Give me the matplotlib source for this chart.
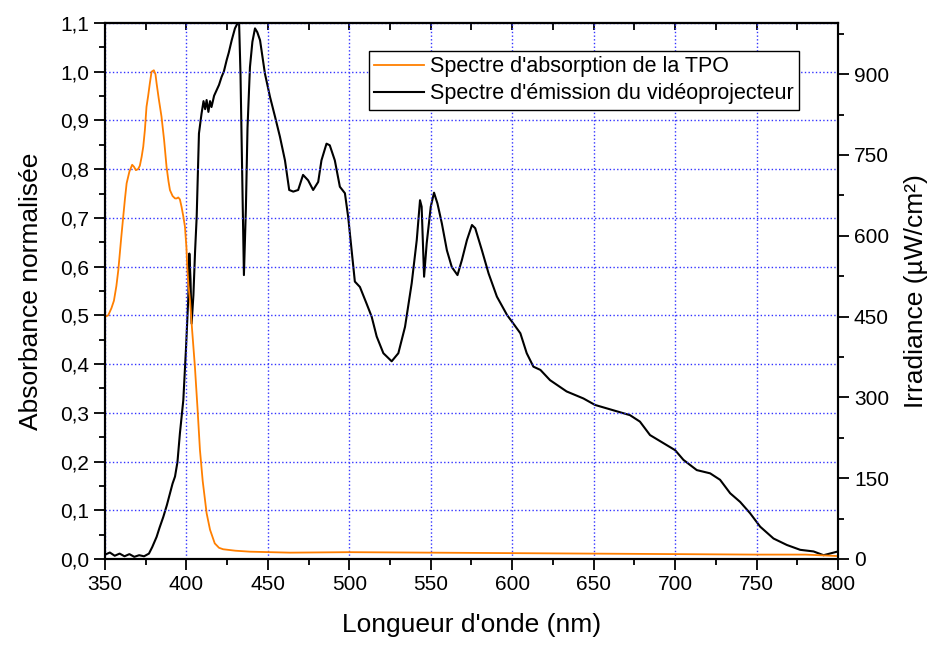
import numpy as np
import matplotlib
matplotlib.use("Agg")
import matplotlib.pyplot as plt
from matplotlib.ticker import MultipleLocator, FuncFormatter

plt.rcParams['font.family'] = ['Liberation Sans', 'DejaVu Sans']

# absorbance of the TPO (normalised, left axis)
abs_nm = [350, 352, 354, 355.5, 357, 358.2, 360, 361.2, 362.3, 363.3, 365, 366.7,
          367.8, 369, 370.3, 371.4, 372.5, 373.5, 374.5, 375.5, 376.5, 377.5, 378.6,
          380, 381, 381.7, 383, 384.7, 386.3, 387.8, 389, 389.9, 391.5, 393, 394,
          395, 396, 397, 398, 399.1, 400, 400.5, 401.3, 402.2, 403.5, 405.2, 406.8,
          408.3, 410, 412.4, 414.5, 417.4, 420, 422.5, 430, 439, 463.6, 500, 550,
          600, 650, 700, 750, 780, 800]
abs_val = [0.497, 0.5, 0.515, 0.53, 0.56, 0.593, 0.66, 0.702, 0.74, 0.771, 0.795, 0.809,
           0.805, 0.798, 0.80, 0.807, 0.825, 0.846, 0.88, 0.928, 0.95, 0.975, 1.0,
           1.003, 0.995, 0.976, 0.945, 0.908, 0.86, 0.805, 0.775, 0.757, 0.745, 0.74, 0.74,
           0.742, 0.738, 0.723, 0.705, 0.682, 0.64, 0.6, 0.56, 0.531, 0.47, 0.395, 0.31,
           0.224, 0.16, 0.094, 0.06, 0.032, 0.023, 0.02, 0.017, 0.015, 0.013, 0.014, 0.013,
           0.012, 0.011, 0.010, 0.009, 0.009, 0.006]

# projector emission spectrum (irradiance, right axis)
em_nm = [350, 353, 356, 359, 362, 365, 368, 371, 374, 377, 379, 381.7, 383.5, 385.8,
         388, 389.9, 391.5, 393, 394.5, 396, 398.1, 399.7, 401.1, 401.8, 402.5, 403.2,
         404.3, 405.3, 406.3, 407.7, 409.3, 410.5, 411.5, 412.4, 413.5, 414.5, 415.4,
         417, 418.5, 420, 421.6, 423, 424.7, 426, 427.8, 429.8, 431, 432.3, 433.2,
         434.3, 435.3, 436.5, 437.5, 439, 440.5, 442.1, 443.5, 445.2, 448.2, 451.3,
         454.4, 457.4, 460.5, 463.1, 465.6, 468.6, 471.6, 474.7, 477.8, 480.9, 482.9,
         486, 488, 491.1, 494.2, 497.3, 499.3, 501.4, 503.4, 506.5, 510.6, 513.7,
         516.8, 520.9, 526, 530.1, 534.2, 538.3, 541.4, 543.4, 544.4, 545.9, 547.5,
         550, 552, 554.1, 556.8, 559.9, 562.9, 566.4, 569.1, 572.2, 575.3, 577.3,
         581.4, 585.5, 590.6, 596.8, 600.7, 605, 608.9, 613, 617.3, 623.2, 633.4,
         643.7, 650.8, 662.1, 672.3, 678.4, 684.6, 692.8, 700, 705.1, 713.3, 721.5,
         727.6, 733.8, 739.9, 746, 752.2, 760.4, 768.6, 776.8, 785, 791.1, 795, 800]
em_val = [8, 12, 6, 10, 5, 9, 4, 7, 5, 10, 22, 41, 58, 78,
          100, 122, 140, 153, 180, 233, 295, 388, 481, 567, 520, 437,
          490, 570, 635, 790, 827, 850, 835, 852, 830, 850, 839,
          860, 870, 880, 895, 905, 926, 940, 963, 985, 992, 1000, 900,
          700, 527, 650, 800, 913, 960, 985, 978, 963, 901, 858,
          821, 784, 740, 685, 682, 685, 713, 703, 685, 700, 740,
          771, 768, 740, 691, 679, 635, 573, 515, 505, 474, 450,
          413, 382, 367, 382, 431, 512, 592, 666, 654, 524, 586,
          654, 680, 660, 623, 573, 542, 527, 555, 592, 620, 614,
          573, 530, 487, 453, 437, 419, 382, 357, 351, 332, 311,
          298, 286, 276, 267, 255, 230, 215, 202, 184, 165, 159,
          147, 122, 106, 85, 60, 38, 26, 17, 14, 7, 10, 14]

fig = plt.figure(figsize=(9.33, 6.46), dpi=100)
ax = fig.add_axes([0.1125, 0.1347, 0.7857, 0.8297])
ax2 = ax.twinx()

l1, = ax.plot(abs_nm, abs_val, color='#ff7f00', lw=1.3,
              label="Spectre d'absorption de la TPO")
l2, = ax2.plot(em_nm, em_val, color='black', lw=1.5,
               label="Spectre d'émission du vidéoprojecteur")

ax.set_xlim(350, 800)
ax.set_ylim(0, 1.1)
ax2.set_ylim(0, 995)

ax.xaxis.set_major_locator(MultipleLocator(50))
ax.xaxis.set_minor_locator(MultipleLocator(25))
ax.yaxis.set_major_locator(MultipleLocator(0.1))
ax.yaxis.set_minor_locator(MultipleLocator(0.05))
ax.yaxis.set_major_formatter(FuncFormatter(lambda v, p: f"{v:.1f}".replace('.', ',')))
ax2.yaxis.set_major_locator(MultipleLocator(150))
ax2.yaxis.set_minor_locator(MultipleLocator(75))

ax.grid(True, which='major', color='#3333ff', linestyle=':', linewidth=1.0)

ax.tick_params(axis='both', which='major', direction='out', length=8, width=1.3,
               labelsize=15, top=False)
ax.tick_params(axis='both', which='minor', direction='out', length=4.5, width=1.3, top=False)
ax2.tick_params(axis='y', which='major', direction='out', length=8, width=1.3, labelsize=15)
ax2.tick_params(axis='y', which='minor', direction='out', length=4.5, width=1.3)

# inward ticks along the top edge
axt = ax.secondary_xaxis('top')
axt.xaxis.set_major_locator(MultipleLocator(25))
axt.tick_params(direction='in', length=5, width=1.3, labeltop=False)

for a in (ax, ax2):
    for s in a.spines.values():
        s.set_linewidth(1.5)
axt.spines['top'].set_linewidth(1.5)

ax.set_xlabel("Longueur d'onde (nm)", fontsize=19, labelpad=14)
ax.set_ylabel("Absorbance normalisée", fontsize=19, labelpad=12)
ax2.set_ylabel("Irradiance (µW/cm²)", fontsize=19, labelpad=11)

leg = ax.legend(handles=[l1, l2], loc='upper left', bbox_to_anchor=(0.360, 0.948),
                fontsize=15.5, frameon=True, fancybox=False, edgecolor='black',
                framealpha=1, handlelength=2.3, handletextpad=0.3,
                labelspacing=0.28, borderpad=0.25, borderaxespad=0)
leg.get_frame().set_linewidth(1.0)
leg.set_zorder(10)
ax.set_zorder(ax2.get_zorder() + 1)
ax.patch.set_visible(False)

fig.savefig('out.png', dpi=100)
